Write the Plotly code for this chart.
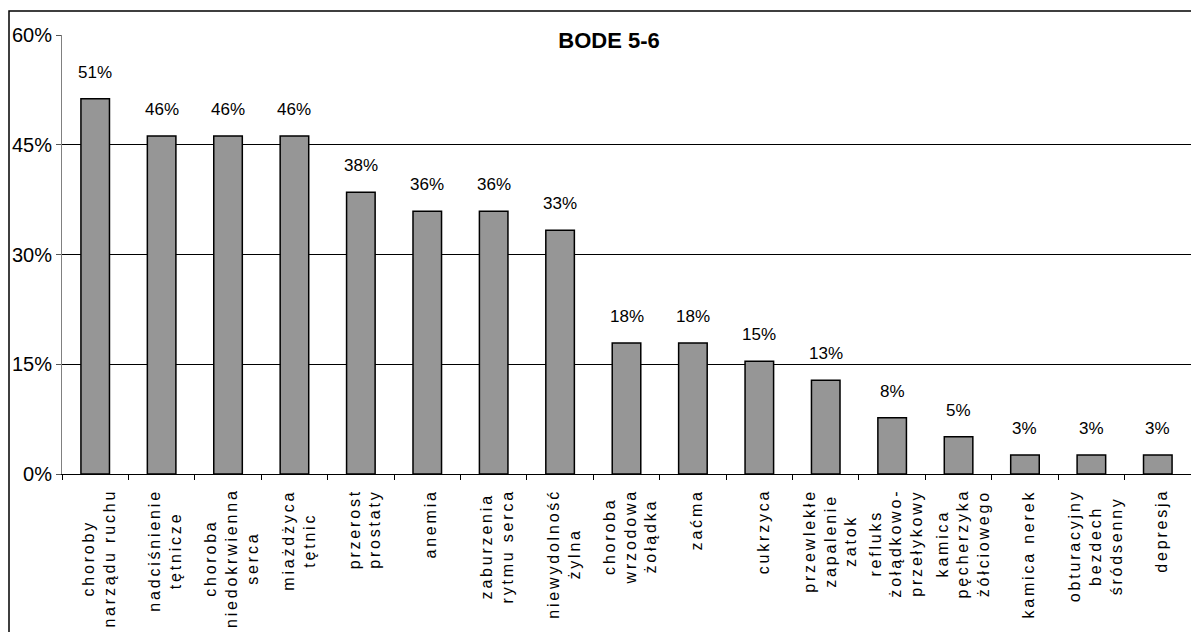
import plotly.graph_objects as go

# Categories (line breaks as drawn under the axis)
categories = [
    "choroby<br>narządu ruchu",
    "nadciśnienie<br>tętnicze",
    "choroba<br>niedokrwienna<br>serca",
    "miażdżyca<br>tętnic",
    "przerost<br>prostaty",
    "anemia",
    "zaburzenia<br>rytmu serca",
    "niewydolność<br>żylna",
    "choroba<br>wrzodowa<br>żołądka",
    "zaćma",
    "cukrzyca",
    "przewlekłe<br>zapalenie<br>zatok",
    "refluks<br>żołądkowo-<br>przełykowy",
    "kamica<br>pęcherzyka<br>żółciowego",
    "kamica nerek",
    "obturacyjny<br>bezdech<br>śródsenny",
    "depresja",
]

# Share of patients, in percent
values = [51.3, 46.2, 46.2, 46.2, 38.5, 35.9, 35.9, 33.3, 17.9, 17.9,
          15.4, 12.8, 7.7, 5.1, 2.6, 2.6, 2.6]

y_ticks = [0, 15, 30, 45, 60]
y_tick_labels = ["0%", "15%", "30%", "45%", "60%"]
title_text = "BODE 5-6"

FONT = "Liberation Sans, Arial, sans-serif"
LETTER_SPACING = 2.8  # px, applied to the rotated category labels

W, H = 1191, 632
M_L, M_R, M_T, M_B = 62, 0, 35, 158
plot_w = W - M_L - M_R
plot_h = H - M_T - M_B

fig = go.Figure()
fig.add_trace(go.Bar(
    x=categories,
    y=values,
    marker=dict(color="#969696", line=dict(color="black", width=1.5)),
    hoverinfo="skip",
))

annotations = []
# value labels above the bars
for c, v in zip(categories, values):
    annotations.append(dict(
        x=c, y=v, xref="x", yref="y",
        text=f"{v:.0f}%", showarrow=False,
        xanchor="center", yanchor="bottom", yshift=15,
        font=dict(family=FONT, size=17, color="black"),
    ))

# rotated category labels under the axis
for c in categories:
    n_max = max(len(s) for s in c.split("<br>"))
    annotations.append(dict(
        x=c, y=0, xref="x", yref="y",
        text=c, showarrow=False, textangle=-90,
        xanchor="center", yanchor="top", align="center",
        xshift=4, yshift=-(13 + n_max * LETTER_SPACING / 2),
        font=dict(family=FONT, size=16, color="black"),
    ))

# outer frame of the chart
frame = dict(
    type="rect", xref="paper", yref="paper",
    x0=(9 - M_L) / plot_w, x1=1.02,
    y0=-0.6, y1=1 + (M_T - 11) / plot_h,
    line=dict(color="black", width=1.5), fillcolor="rgba(0,0,0,0)",
    layer="above",
)

fig.update_layout(
    width=W, height=H,
    margin=dict(l=M_L, r=M_R, t=M_T, b=M_B),
    paper_bgcolor="white", plot_bgcolor="white",
    showlegend=False,
    bargap=0.57,
    title=dict(
        text=f"<b>{title_text}</b>",
        x=(609 - M_L) / plot_w, xref="paper", xanchor="center",
        y=1 - 40 / H, yref="container", yanchor="middle",
        font=dict(family=FONT, size=22, color="black"),
    ),
    xaxis=dict(
        type="category",
        showticklabels=False,
        ticks="outside", ticklen=5, tickcolor="black", tickwidth=1,
        tickson="boundaries",
        showline=True, linecolor="black", linewidth=1,
        showgrid=False, zeroline=False,
    ),
    yaxis=dict(
        range=[0, 60], tickmode="array",
        tickvals=y_ticks, ticktext=y_tick_labels,
        ticks="outside", ticklen=5, tickcolor="#555555",
        showline=True, linecolor="#808080", linewidth=1,
        showgrid=True, gridcolor="black", gridwidth=1,
        zeroline=True, zerolinecolor="black", zerolinewidth=1,
        tickfont=dict(family=FONT, size=20, color="black"),
    ),
    annotations=annotations,
    shapes=[frame],
)

post = """
(function(){
  function spread(){
    document.querySelectorAll('text.annotation-text').forEach(function(t){
      if (t.textContent.indexOf('%') < 0) { t.style.letterSpacing = 'LSpx'; }
    });
  }
  spread();
  var gd = document.getElementById('{plot_id}');
  if (gd && gd.on) { gd.on('plotly_afterplot', spread); }
})();
""".replace("LSpx", f"{LETTER_SPACING}px")

fig.write_html("out.html", post_script=post, config={"displayModeBar": False})
